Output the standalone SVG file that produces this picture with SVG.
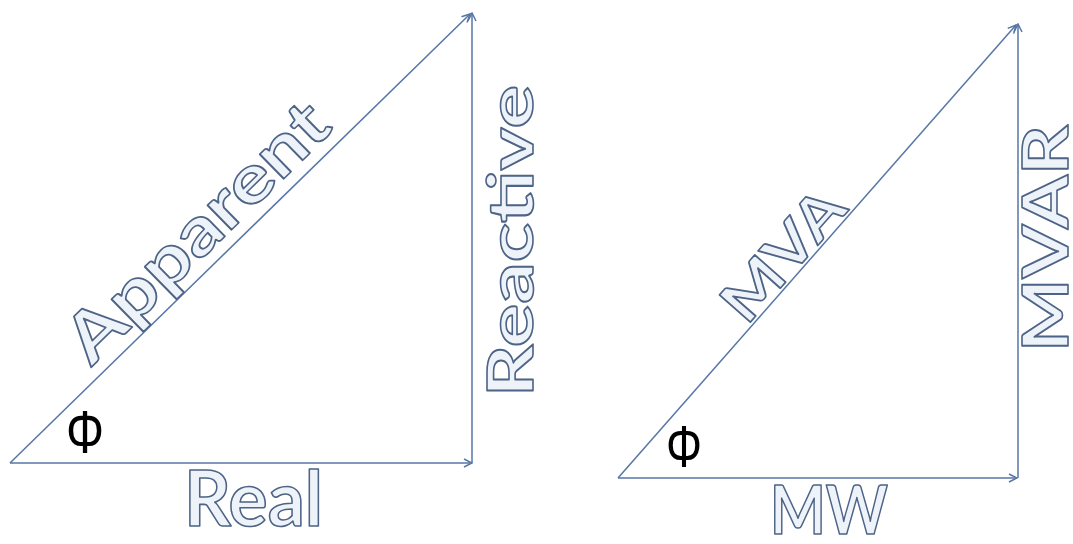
<svg xmlns="http://www.w3.org/2000/svg" width="1073" height="544" viewBox="0 0 1073 544">
<style>
.ln{stroke:#5676a6;stroke-width:1.5;fill:none}
.wa{font-family:Lato,"Open Sans","Liberation Sans",sans-serif;font-weight:bold;fill:#eef3f9;stroke:#4d6487;stroke-width:1.6;stroke-linejoin:round}
.phi{font-family:"Liberation Sans",Arial,sans-serif;fill:#000}
</style>
<defs>
<marker id="arr" viewBox="0 0 10 10" refX="9" refY="5" markerWidth="10" markerHeight="10" markerUnits="userSpaceOnUse" orient="auto">
<path d="M1,1 L9,5 L1,9" fill="none" stroke="#5676a6" stroke-width="1.5"/>
</marker>
</defs>
<rect width="1073" height="544" fill="#fff"/>
<g id="connectors">
<line class="ln" x1="10" y1="463" x2="472" y2="463" marker-end="url(#arr)"/>
<line class="ln" x1="472" y1="463" x2="472" y2="13" marker-end="url(#arr)"/>
<line class="ln" x1="10" y1="463" x2="470" y2="14" marker-end="url(#arr)"/>
<line class="ln" x1="618" y1="478" x2="1017" y2="478" marker-end="url(#arr)"/>
<line class="ln" x1="1018" y1="478" x2="1018" y2="24" marker-end="url(#arr)"/>
<line class="ln" x1="618" y1="478" x2="1016" y2="25" marker-end="url(#arr)"/>
</g>
<g id="label-real"><text class="wa" x="184" y="526" font-size="76" textLength="139" lengthAdjust="spacingAndGlyphs">Real</text></g>
<g id="label-reactive"><text class="wa" x="533" y="397" font-size="63" textLength="312" lengthAdjust="spacingAndGlyphs" transform="rotate(-90 533 397)">Reactive</text></g>
<g id="label-apparent"><text class="wa" x="213" y="248" font-size="67" text-anchor="middle" textLength="340" lengthAdjust="spacingAndGlyphs" transform="rotate(-44.4 213 248)">Apparent</text></g>
<g id="label-phi-left"><text class="phi" x="66" y="453" font-size="62" textLength="38" lengthAdjust="spacingAndGlyphs">Φ</text></g>
<g id="label-mw"><text class="wa" x="770" y="534" font-size="66" textLength="118" lengthAdjust="spacingAndGlyphs">MW</text></g>
<g id="label-mvar"><text class="wa" x="1068" y="352" font-size="64" textLength="227" lengthAdjust="spacingAndGlyphs" transform="rotate(-90 1068 352)">MVAR</text></g>
<g id="label-mva"><text class="wa" x="798" y="268" font-size="57" text-anchor="middle" textLength="155" lengthAdjust="spacingAndGlyphs" transform="rotate(-48.6 798 268)">MVA</text></g>
<g id="label-phi-right"><text class="phi" x="666" y="467" font-size="60" textLength="36" lengthAdjust="spacingAndGlyphs">Φ</text></g>
</svg>
